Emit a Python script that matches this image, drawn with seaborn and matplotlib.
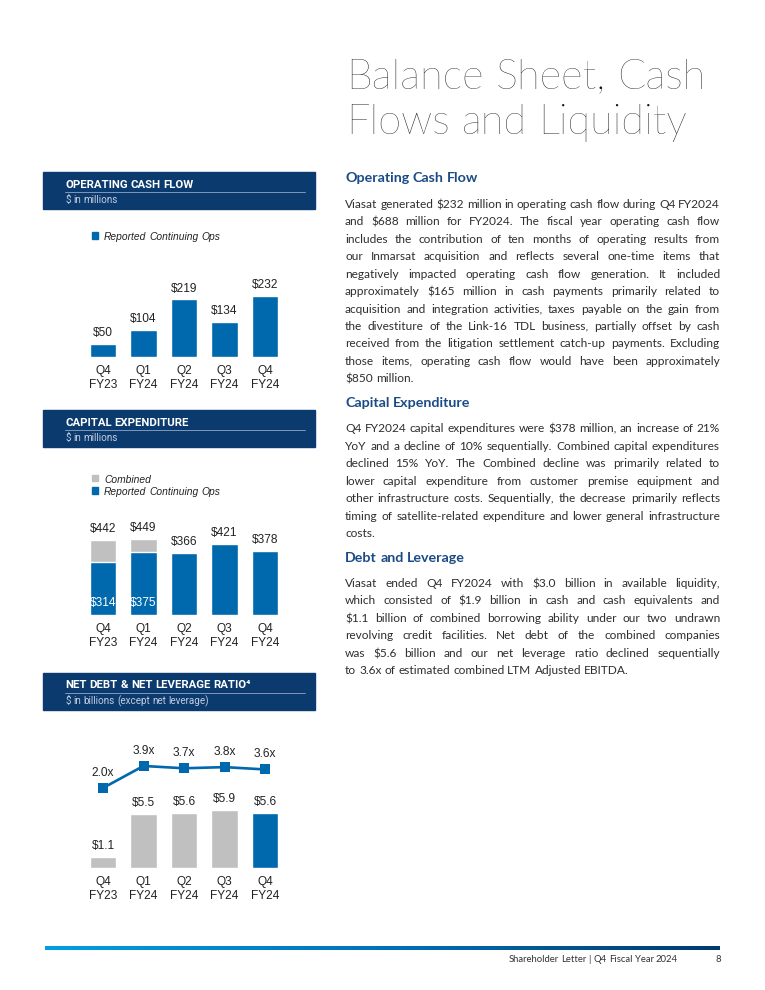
import math
import numpy as np
import pandas as pd
import matplotlib
matplotlib.use("Agg")
import matplotlib.pyplot as plt
import seaborn as sns
from matplotlib.patches import Rectangle
from matplotlib.lines import Line2D
from matplotlib.colors import LinearSegmentedColormap
from matplotlib.font_manager import FontProperties
from matplotlib.backends.backend_agg import get_hinting_flag

sns.set_theme(style="white")
plt.rcParams["font.family"] = ["Liberation Sans", "DejaVu Sans"]

# data
quarters = ["Q4\nFY23", "Q1\nFY24", "Q2\nFY24", "Q3\nFY24", "Q4\nFY24"]
ocf = [50, 104, 219, 134, 232]
capex_combined = [442, 449, 366, 421, 378]
capex_reported = [314, 375, 366, 421, 378]
net_debt = [1.1, 5.5, 5.6, 5.9, 5.6]
leverage = [2.0, 3.9, 3.7, 3.8, 3.6]

title_lines = ["Balance Sheet, Cash", "Flows and Liquidity"]
para_ocf = [
    "Viasat generated $232 million in operating cash flow during Q4 FY2024",
    "and $688 million for FY2024.  The fiscal year operating cash flow",
    "includes the contribution of ten months of operating results from",
    "our Inmarsat acquisition and reflects several one-time items that",
    "negatively impacted operating cash flow generation.  It included",
    "approximately $165 million in cash payments primarily related to",
    "acquisition and integration activities, taxes payable on the gain from",
    "the divestiture of the Link-16 TDL business, partially offset by cash",
    "received from the litigation settlement catch-up payments.  Excluding",
    "those items, operating cash flow would have been approximately",
    "$850 million.",
]
para_capex = [
    "Q4 FY2024 capital expenditures were $378 million, an increase of 21%",
    "YoY and a decline of 10% sequentially.  Combined capital expenditures",
    "declined 15% YoY.  The Combined decline was primarily related to",
    "lower capital expenditure from customer premise equipment and",
    "other infrastructure costs.  Sequentially, the decrease primarily reflects",
    "timing of satellite-related expenditure and lower general infrastructure",
    "costs.",
]
para_debt = [
    "Viasat ended Q4 FY2024 with $3.0 billion in available liquidity,",
    "which consisted of $1.9 billion in cash and cash equivalents and",
    "$1.1 billion of combined borrowing ability under our two undrawn",
    "revolving credit facilities.  Net debt of the combined companies",
    "was $5.6 billion and our net leverage ratio declined sequentially",
    "to 3.6x of estimated combined LTM Adjusted EBITDA.",
]

BLUE = "#0068ad"
GRAY = "#c0c0c0"
NAVY = "#0b3a6e"
HEAD = "#1b4b85"
TXT = "#2e2e2e"
LBL = 8.6

W, H = 765, 990
fig = plt.figure(figsize=(7.65, 9.9), dpi=100)
fig.patch.set_facecolor("white")
renderer = fig.canvas.get_renderer()


def px_axes(x0, y0, x1, y1):
    return fig.add_axes([x0 / W, 1 - y1 / H, (x1 - x0) / W, (y1 - y0) / H])


def ftxt(x, y, s, **kw):
    return fig.text(x / W, 1 - y / H, s, parse_math=False, **kw)


def snap_y(word, yb, prop):
    # keep every word on the same pixel baseline (Agg rounds each text separately)
    try:
        font = renderer._prepare_font(prop)
        font.set_text(word, 0, flags=get_hinting_flag())
        w26, h26 = font.get_width_height()
        d26 = font.get_descent()
        ym = (h26 - d26) / 64.0
        r = round(yb) + h26 // 64 - math.floor(ym)
        return r - d26 / 64.0
    except Exception:
        return yb


def words_at(x, yb, s, fs, family, weight="normal", style="normal", color=TXT,
             x1=None, align="left"):
    kw = dict(fontsize=fs, family=family, fontweight=weight, fontstyle=style,
              color=color, va="baseline", ha="left")
    prop = FontProperties(family=family, size=fs, weight=weight, style=style)
    words = s.split()
    texts = [ftxt(0, 0, w, **kw) for w in words]
    widths = [t.get_window_extent(renderer).width for t in texts]
    if x1 is not None and len(words) > 1:
        gap = (x1 - x - sum(widths)) / (len(words) - 1)
    else:
        a1 = ftxt(0, 0, "a a", **kw)
        a2 = ftxt(0, 0, "aa", **kw)
        gap = a1.get_window_extent(renderer).width - a2.get_window_extent(renderer).width
        a1.remove()
        a2.remove()
    if align == "right":
        x = x - (sum(widths) + gap * (len(words) - 1))
    for t, w, wd in zip(texts, words, widths):
        t.set_position((x / W, 1 - snap_y(w, yb, prop) / H))
        x += wd + gap


HFAM = ["Roboto", "DejaVu Sans"]


def header(y0, title, sub):
    fig.patches.append(Rectangle((43 / W, 1 - (y0 + 37) / H), 272 / W, 37 / H,
                                 transform=fig.transFigure, color=NAVY))
    words_at(65, y0 + 15.5, title, 8.2, HFAM, weight="bold", color="white")
    fig.add_artist(Line2D([65 / W, 305 / W], [1 - (y0 + 19.5) / H] * 2,
                          color="#7f97bb", lw=0.7))
    words_at(65, y0 + 31, sub, 7.1, HFAM, color="#c3cde0")


def legend_item(yb, color, label):
    fig.patches.append(Rectangle((91.5 / W, 1 - (yb - 1.3) / H), 6.2 / W, 6.2 / H,
                                 transform=fig.transFigure, color=color))
    words_at(104, yb, label, 7.4, ["Liberation Sans", "DejaVu Sans"],
             style="italic", color="#222222")


def style_ax(ax, ymax):
    ax.set_xlim(-0.5, 4.5)
    ax.set_ylim(0, ymax)
    sns.despine(ax=ax, left=True, bottom=True)
    ax.set_yticks([])
    ax.set_xlabel("")
    ax.set_ylabel("")
    ax.tick_params(axis="x", length=0, pad=6, labelsize=LBL, labelcolor="#222222")
    for lab in ax.get_xticklabels():
        lab.set_linespacing(1.2)
    ax.patch.set_alpha(0)


# ---- Operating cash flow chart
header(172, "OPERATING CASH FLOW", "$ in millions")
legend_item(240, BLUE, "Reported Continuing Ops")
ax1 = px_axes(82.75, 280, 285.25, 357)
sns.barplot(x=quarters, y=ocf, color=BLUE, saturation=1, width=0.66, ax=ax1)
style_ax(ax1, 77 / 0.263)
for i, v in enumerate(ocf):
    ax1.annotate(f"${v}", (i, v), xytext=(0, 3.5), textcoords="offset points",
                 ha="center", va="bottom", fontsize=LBL, color="#222222")

# ---- Capital expenditure chart
header(410, "CAPITAL EXPENDITURE", "$ in millions")
legend_item(482.7, GRAY, "Combined")
legend_item(495, BLUE, "Reported Continuing Ops")
ax2 = px_axes(82.75, 530, 285.25, 615)
sns.barplot(x=quarters, y=capex_combined, color=GRAY, saturation=1, width=0.66, ax=ax2)
sns.barplot(x=quarters, y=capex_reported, color=BLUE, saturation=1, width=0.66, ax=ax2)
style_ax(ax2, 85 / 0.169)
for i, v in enumerate(capex_combined):
    ax2.annotate(f"${v}", (i, v), xytext=(0, 3.5), textcoords="offset points",
                 ha="center", va="bottom", fontsize=LBL, color="#222222")
for i, (c, r) in enumerate(zip(capex_combined, capex_reported)):
    if c != r:
        ax2.annotate(f"${r}", (i, 0), xytext=(0, 8.6), textcoords="offset points",
                     ha="center", va="center", fontsize=LBL, color="white")

# ---- Net debt & leverage chart
header(673, "NET DEBT & NET LEVERAGE RATIO\u2074", "$ in billions (except net leverage)")
ax3 = px_axes(82.75, 742, 285.25, 868)
bar_cols = [GRAY] * (len(net_debt) - 1) + [BLUE]
sns.barplot(x=quarters, y=net_debt, hue=quarters, palette=bar_cols, saturation=1,
            width=0.66, legend=False, ax=ax3)
style_ax(ax3, 126 / 9.75)
for i, v in enumerate(net_debt):
    ax3.annotate(f"${v:.1f}", (i, v), xytext=(0, 4), textcoords="offset points",
                 ha="center", va="bottom", fontsize=LBL, color="#222222")
ax3b = ax3.twinx()
lev_scale = 11.6
lo = leverage[0] - (868 - 788) / lev_scale
hi = leverage[0] + (788 - 742) / lev_scale
sns.lineplot(x=list(range(len(leverage))), y=leverage, color=BLUE, lw=1.9,
             marker="s", markersize=6.5, markeredgewidth=0, ax=ax3b)
ax3b.set_ylim(lo, hi)
ax3b.set_xlim(-0.5, 4.5)
ax3b.set_yticks([])
ax3b.set_ylabel("")
sns.despine(ax=ax3b, left=True, bottom=True, right=True)
for i, v in enumerate(leverage):
    ax3b.annotate(f"{v:.1f}x", (i, v), xytext=(0, 11), textcoords="offset points",
                  ha="center", va="center", fontsize=LBL, color="#222222")

# ---- Title
for k, line in enumerate(title_lines):
    words_at(346, 89 + 45 * k, line, 30, "Lato", weight="light", color="#111111")

# ---- Body text, justified word by word
X0, X1 = 345, 720
BODY = "Lato"


def text_width(s, fs):
    t = ftxt(0, 0, s, fontsize=fs, family=BODY)
    w = t.get_window_extent(renderer).width
    t.remove()
    return w


all_lines = para_ocf[:-1] + para_capex[:-1] + para_debt[:-1]
base = 10.0
ratio = min((X1 - X0) / text_width(" ".join(l.split()), base) for l in all_lines)
BODY_FS = min(9.5, base * ratio * 0.995)


def paragraph(lines, yb0, dy=17.47):
    for i, line in enumerate(lines):
        last = i == len(lines) - 1
        words_at(X0, yb0 + i * dy, line, BODY_FS, BODY, color=TXT,
                 x1=None if last else X1)


subhead_fs = 10.3
words_at(X0, 182.5, "Operating Cash Flow", subhead_fs, BODY, weight="bold", color=HEAD)
paragraph(para_ocf, 207.7)
words_at(X0, 407.3, "Capital Expenditure", subhead_fs, BODY, weight="bold", color=HEAD)
paragraph(para_capex, 432.3)
words_at(X0, 562.3, "Debt and Leverage", subhead_fs, BODY, weight="bold", color=HEAD)
paragraph(para_debt, 586.7)

# ---- Footer
axf = px_axes(45, 945.5, 720, 950)
grad = LinearSegmentedColormap.from_list("foot", ["#009fe0", "#0072b8", "#003a70"])
axf.imshow(np.linspace(0, 1, 256)[None, :], aspect="auto", cmap=grad)
axf.set_axis_off()
words_at(678, 962.3, "Shareholder Letter  |  Q4 Fiscal Year 2024", 6.8, BODY,
         color="#333333", align="right")
words_at(715, 962.3, "8", 6.8, BODY, color="#333333")

fig.savefig("out.png", dpi=100, facecolor="white")
